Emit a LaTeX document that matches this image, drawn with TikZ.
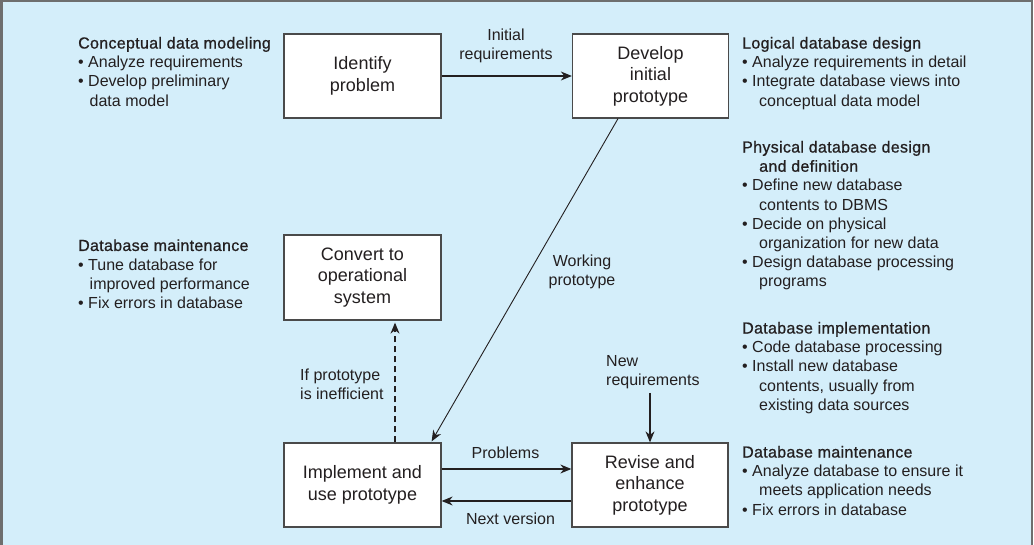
\documentclass[tikz,border=0pt]{standalone}
\usepackage{fontspec}
\setmainfont{Liberation Sans}
\newfontfamily\headfont{Liberation Sans}[FakeBold=0.8, LetterSpace=2.0]
\usetikzlibrary{arrows.meta}
\definecolor{bg}{HTML}{D4EEFA}
\definecolor{framecol}{HTML}{6E6E6E}
\definecolor{ink}{HTML}{231F20}
\definecolor{boxline}{HTML}{4A4A4A}
\newcommand\hdr[1]{{\headfont #1}}
\newcommand\bul{\textbullet\ }
\newcommand\lcont{\hspace*{11.5pt}}
\newcommand\rcont{\hspace*{17pt}}
\begin{document}
\begin{tikzpicture}[x=1pt,y=-1pt,
  box/.style={draw=boxline, line width=1.3pt, fill=white, minimum width=157pt, minimum height=84pt, inner sep=0pt, align=center, font=\fontsize{18}{21.5}\selectfont, text=ink},
  side/.style={anchor=north west, align=left, inner sep=0pt, font=\fontsize{16}{19.2}\selectfont, text=ink},
  lbl/.style={inner sep=0pt, font=\fontsize{16}{19.2}\selectfont, text=ink},
  arr/.style={draw=ink, line width=1.2pt, -{Stealth[length=11pt,width=9pt]}},
]
\useasboundingbox (0,0) rectangle (1034,545);
\fill[bg] (0,0) rectangle (1032,545);
\draw[framecol, line width=2.5pt] (1.25,545) -- (1.25,1.25) -- (1031.75,1.25) -- (1031.75,545);

% boxes
\node[box] (ident) at (362.5,76) {Identify\\problem};
\node[box, minimum width=156pt] (dev) at (650.5,76) {Develop\\initial\\prototype};
\node[box, minimum height=85pt] (conv) at (362.5,277.5) {Convert to\\operational\\system};
\node[box] (impl) at (362.5,485) {Implement and\\use prototype};
\node[box, minimum width=156pt] (rev) at (650,485) {Revise and\\enhance\\prototype};
\coordinate (newreq) at (650,393);

% side texts
\node[side] (cdm) at (78,34.9) {\strut\hdr{Conceptual data modeling}\\\bul Analyze requirements\\\bul Develop preliminary\\\lcont data model};
\node[side] (ldd) at (742,34.9) {\strut\hdr{Logical database design}\\\bul Analyze requirements in detail\\\bul Integrate database views into\\\rcont conceptual data model};
\node[side] (pdd) at (742,138.9) {\strut\hdr{Physical database design}\\\rcont\hdr{and definition}\\\bul Define new database\\\rcont contents to DBMS\\\bul Decide on physical\\\rcont organization for new data\\\bul Design database processing\\\rcont programs};
\node[side] (dbi) at (742,319.9) {\strut\hdr{Database implementation}\\\bul Code database processing\\\bul Install new database\\\rcont contents, usually from\\\rcont existing data sources};
\node[side] (dbm2) at (742,443.9) {\strut\hdr{Database maintenance}\\\bul Analyze database to ensure it\\\rcont meets application needs\\\bul Fix errors in database};
\node[side] (dbm1) at (78,237.3) {\strut\hdr{Database maintenance}\\\bul Tune database for\\\lcont improved performance\\\bul Fix errors in database};

% connectors
\draw[arr] (ident.east) -- (dev.west);
\node[lbl, align=center] (l1) at (506,45.5) {Initial\\requirements};

\draw[arr, line width=0.9pt] ([xshift=-32.5pt]dev.south) -- ([xshift=-10pt,yshift=1pt]impl.north east);
\node[lbl, align=center] (l2) at (582,271.5) {Working\\prototype};

\draw[arr, dashed, dash pattern=on 6pt off 4pt, shorten >=2pt] ([xshift=32.5pt]impl.north) -- ([xshift=32.5pt]conv.south);
\node[lbl, align=left, anchor=west] (l3) at (300,384.5) {If prototype\\is inefficient};

\draw[arr] (newreq) -- (rev.north);
\node[lbl, align=left, anchor=west] (l4) at (606,372) {New\\requirements};

\draw[arr] ([yshift=16pt]impl.east) -- ([yshift=16pt]rev.west);
\node[lbl] (l5) at (505.5,453) {Problems};
\draw[arr] ([yshift=-16pt]rev.west) -- ([yshift=-16pt]impl.east);
\node[lbl] (l6) at (510.5,518.5) {Next version};
\end{tikzpicture}
\end{document}
